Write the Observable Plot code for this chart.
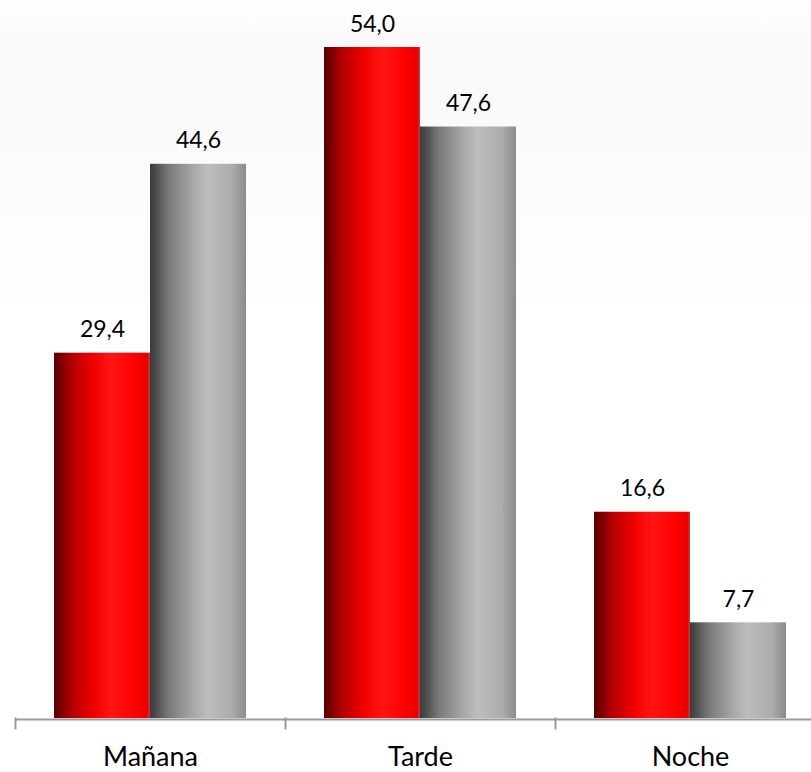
<!DOCTYPE html>
<html>
<head>
<meta charset="utf-8">
<script src="https://cdn.jsdelivr.net/npm/d3@7"></script>
<script src="https://cdn.jsdelivr.net/npm/@observablehq/plot@0.6"></script>
<style>
  html, body { margin: 0; padding: 0; background: #ffffff; }
  #chart { width: 811px; height: 772px; }
</style>
</head>
<body>
<div id="chart"></div>
<script>
const categories = ["Mañana", "Tarde", "Noche"];
const seriesNames = ["Serie 1", "Serie 2"];
const valuesRed = [29.4, 54.0, 16.6];
const valuesGray = [44.6, 47.6, 7.7];

const rows = categories.flatMap((c, i) => [
  { cat: c, serie: seriesNames[0], value: valuesRed[i] },
  { cat: c, serie: seriesNames[1], value: valuesGray[i] }
]);
const fmt = d => d.value.toFixed(1).replace(".", ",");
const font = "'Lato', sans-serif";

const plot = Plot.plot({
  width: 811,
  height: 772,
  marginTop: 47,
  marginBottom: 54,
  marginLeft: 15,
  marginRight: -14,
  style: {
    background: "linear-gradient(to bottom, #ffffff 0px, #fafafa 35px, #fafafa 130px, #ffffff 330px)",
    fontFamily: font,
    overflow: "visible"
  },
  fx: { domain: categories, padding: 0, axis: null, label: null },
  x: { domain: seriesNames, paddingInner: 0, paddingOuter: 39 / 96, axis: null },
  y: { domain: [0, 54], axis: null },
  marks: [
    Plot.barY(rows.filter(d => d.serie === seriesNames[0]), {
      fx: "cat", x: "serie", y: "value", fill: "url(#gRed)"
    }),
    Plot.barY(rows.filter(d => d.serie === seriesNames[1]), {
      fx: "cat", x: "serie", y: "value", fill: "url(#gGray)"
    }),
    Plot.ruleY([0], { stroke: "#9a9a9a", strokeWidth: 2, dy: 1 }),
    Plot.frame({ anchor: "left", stroke: "#9a9a9a", strokeWidth: 2, insetTop: 671, insetBottom: -10 }),
    Plot.text(rows, {
      fx: "cat", x: "serie", y: "value", text: fmt,
      lineAnchor: "bottom", dy: -16, fontSize: 23, fill: "#000"
    }),
    Plot.text(categories, {
      fx: d => d, text: d => d, frameAnchor: "bottom", lineAnchor: "middle",
      dy: 39, fontSize: 27, fill: "#000"
    })
  ]
});

d3.select(plot).insert("defs", ":first-child").html(`
  <linearGradient id="gRed" x1="0" x2="1" y1="0" y2="0">
    <stop offset="0" stop-color="#560000"/>
    <stop offset="0.18" stop-color="#b00000"/>
    <stop offset="0.42" stop-color="#f20000"/>
    <stop offset="0.6" stop-color="#ff1515"/>
    <stop offset="0.85" stop-color="#ff0000"/>
    <stop offset="0.97" stop-color="#e80000"/>
    <stop offset="1" stop-color="#c04040"/>
  </linearGradient>
  <linearGradient id="gGray" x1="0" x2="1" y1="0" y2="0">
    <stop offset="0" stop-color="#3a3a3a"/>
    <stop offset="0.2" stop-color="#7a7a7a"/>
    <stop offset="0.45" stop-color="#a8a8a8"/>
    <stop offset="0.6" stop-color="#bdbdbd"/>
    <stop offset="0.85" stop-color="#acacac"/>
    <stop offset="1" stop-color="#8c8c8c"/>
  </linearGradient>
`);

document.getElementById("chart").appendChild(plot);
</script>
</body>
</html>
